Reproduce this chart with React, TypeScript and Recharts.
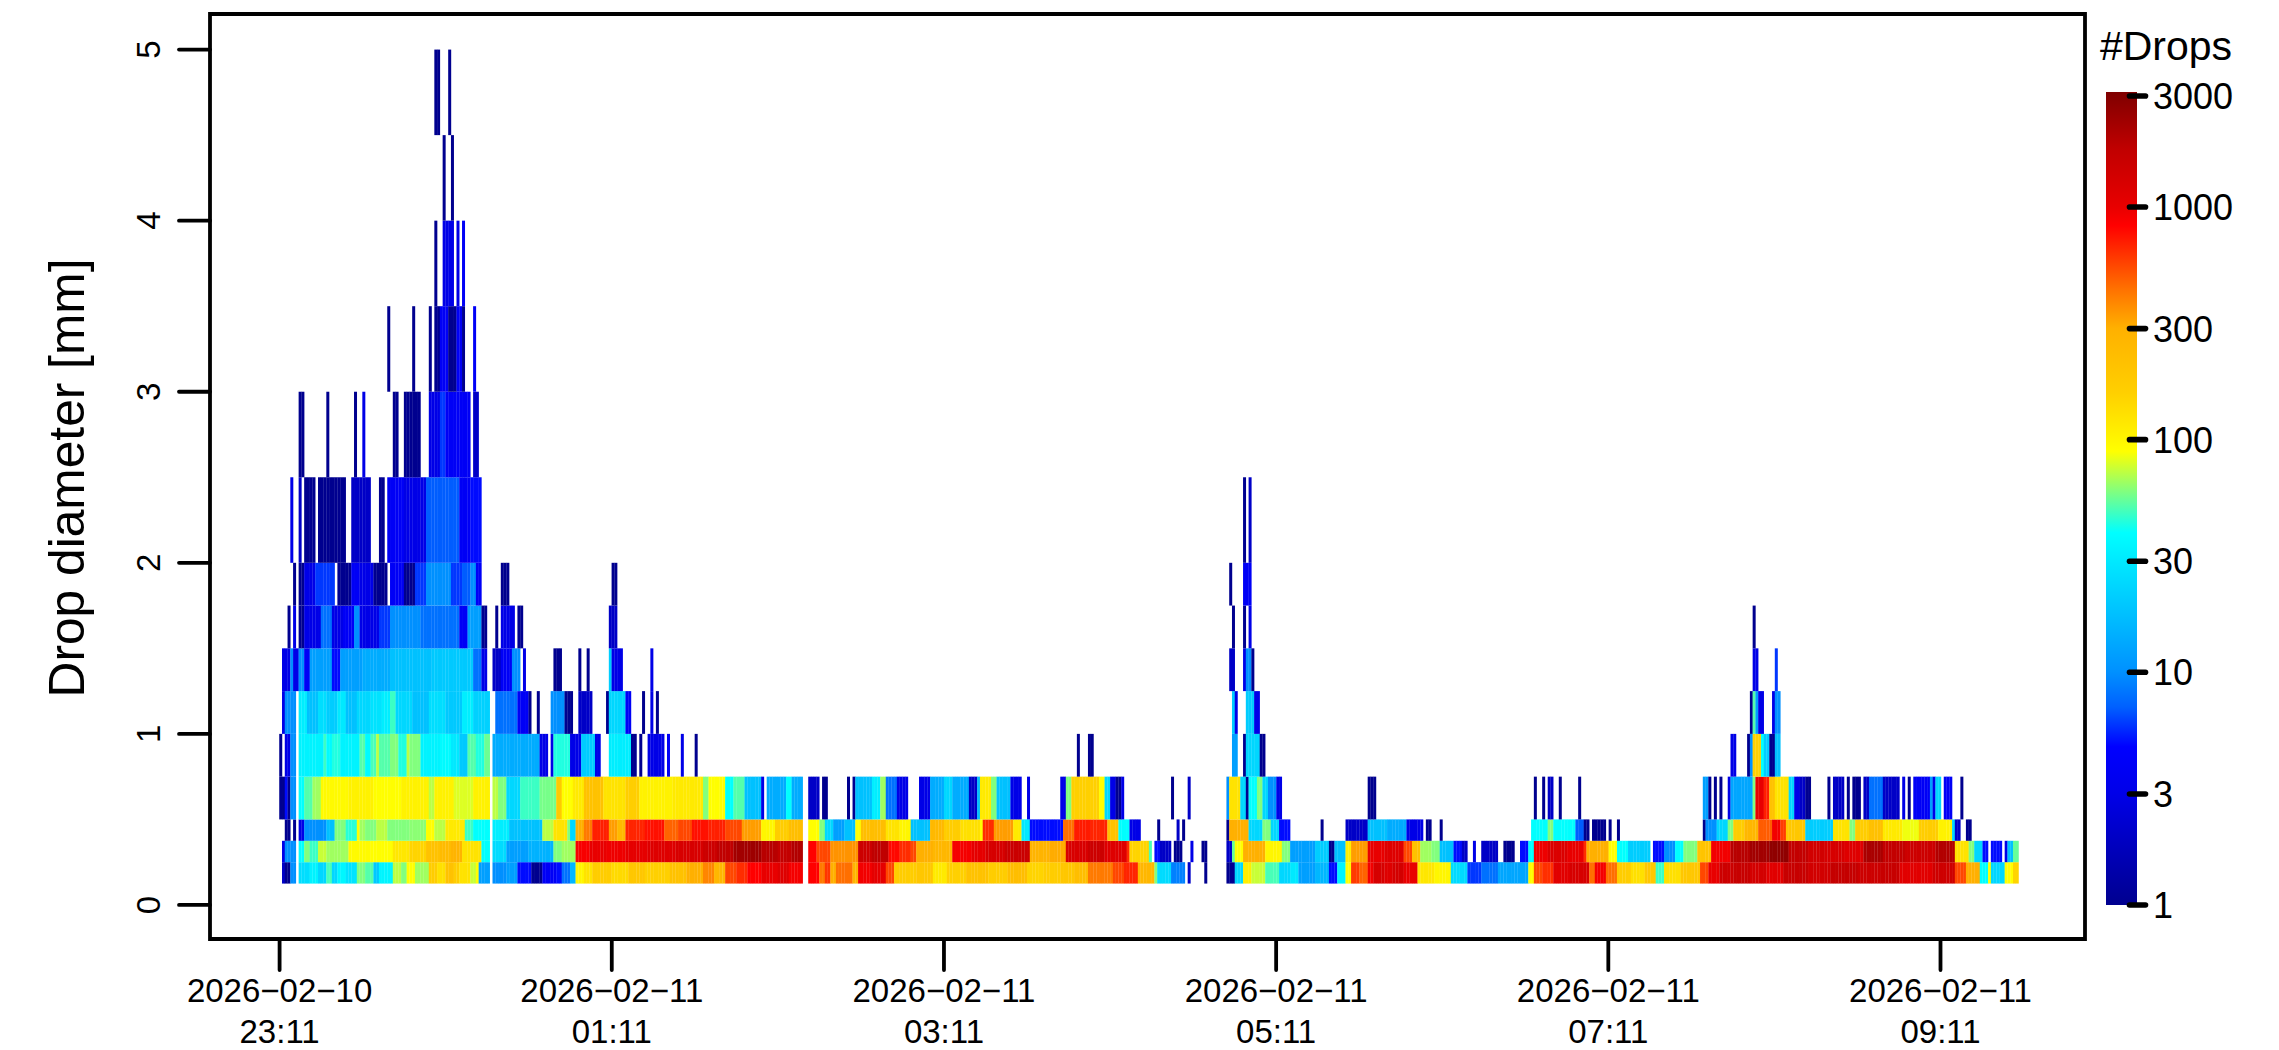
import React from 'react';
import { ComposedChart, Bar, XAxis, YAxis, ReferenceArea } from 'recharts';

// Drop diameter class edges [mm]
const diameterEdges = [0.125, 0.25, 0.375, 0.5, 0.75, 1, 1.25, 1.5, 1.75, 2, 2.5, 3, 3.5, 4, 4.5, 5];

// Each class: runs of [first minute, end minute, drop count]
const d0125 = [[1,2,2],[2,4,1],[4,6,10],[7,11,26],[11,14,34],[14,17,24],[17,19,50],[19,21,24],[21,24,36],[24,28,28],[28,31,60],[31,34,52],[34,36,20],[36,41,35],[41,44,72],[44,46,60],[46,49,90],[49,54,66],[54,57,170],[57,60,130],[60,63,210],[63,65,170],[65,69,125],[69,71,75],[71,72,90],[72,76,12],[77,82,10],[82,86,12],[86,91,5],[91,95,1],[95,100,4],[100,102,5],[102,105,8],[105,107,16],[107,110,100],[110,113,125],[113,120,170],[120,126,140],[126,132,190],[132,141,160],[141,147,210],[147,153,300],[153,157,390],[157,161,260],[161,165,560],[165,169,650],[169,174,830],[174,180,1000],[180,184,1150],[184,189,900],[191,195,830],[195,197,420],[197,199,620],[199,201,300],[201,207,450],[207,209,280],[209,214,920],[214,219,1050],[219,222,560],[222,230,170],[230,236,190],[236,241,115],[241,248,160],[248,256,210],[256,263,170],[263,270,230],[270,276,150],[276,282,170],[282,287,190],[287,292,230],[292,301,420],[301,305,560],[305,310,680],[310,316,260],[316,317,60],[317,322,25],[322,327,9],[328,329,2],[334,335,1],[342,345,1],[345,348,24],[348,351,110],[351,356,75],[356,361,50],[361,365,24],[365,368,30],[368,374,12],[374,379,16],[379,382,5],[382,385,35],[385,387,90],[387,390,600],[390,393,480],[393,395,920],[395,399,1300],[399,402,1150],[402,406,1350],[406,411,1000],[411,417,120],[417,423,100],[423,429,25],[429,434,6],[434,440,8],[440,451,13],[451,453,90],[453,456,560],[456,460,640],[460,466,1100],[466,473,1300],[473,475,450],[475,479,900],[479,483,450],[483,488,170],[488,493,130],[493,497,190],[497,500,48],[500,506,130],[506,513,190],[513,516,560],[516,520,1000],[520,525,1500],[525,531,1600],[531,537,1350],[537,543,1100],[543,552,1600],[552,560,1400],[560,570,1650],[570,578,1500],[578,585,1600],[585,597,1100],[597,605,1450],[605,609,560],[609,614,300],[614,617,40],[617,618,90],[618,623,24],[623,626,90],[626,628,150]];
const d0250 = [[1,2,3],[2,6,10],[7,9,40],[9,11,60],[11,14,48],[14,17,75],[17,20,66],[20,25,66],[25,33,95],[33,41,90],[41,47,120],[47,53,150],[53,58,210],[58,62,240],[62,66,280],[66,73,125],[73,76,40],[77,82,25],[82,90,12],[90,99,15],[99,102,60],[102,107,66],[107,112,880],[112,118,1000],[118,125,950],[125,133,1050],[133,143,1150],[143,153,1280],[153,158,1500],[158,164,1780],[164,170,2300],[170,174,2400],[174,180,1900],[180,185,1700],[185,189,2000],[191,194,830],[194,199,560],[199,209,360],[209,214,1500],[214,220,1800],[220,224,800],[224,228,650],[228,230,560],[230,236,300],[236,243,260],[243,250,900],[250,255,1050],[255,262,1300],[262,271,1550],[271,278,280],[278,284,310],[284,292,1250],[292,298,1500],[298,306,1150],[306,307,650],[307,314,150],[314,315,50],[316,318,5],[318,322,2],[323,326,1],[329,330,3],[333,335,1],[342,344,2],[344,345,55],[345,348,90],[348,356,300],[356,362,100],[362,365,60],[365,374,12],[374,379,21],[379,381,1],[381,385,18],[385,387,110],[387,393,340],[393,399,1000],[399,406,1150],[406,409,560],[409,412,210],[412,416,66],[416,419,60],[419,424,18],[424,427,5],[427,429,2],[431,432,3],[434,440,2],[442,446,1],[448,451,5],[451,453,40],[453,458,950],[458,465,1200],[465,471,1000],[471,472,650],[472,480,300],[480,483,90],[483,487,40],[487,495,21],[496,498,5],[498,500,5],[500,504,10],[504,507,40],[507,512,60],[512,517,200],[517,524,920],[524,531,1900],[531,538,2300],[538,545,2700],[545,552,1700],[552,558,1400],[558,565,1300],[565,572,1150],[572,579,2150],[579,587,1700],[587,598,1500],[598,605,2000],[605,610,125],[610,612,60],[612,615,24],[615,617,5],[618,622,5],[623,624,3],[624,626,18],[626,628,55]];
const d0375 = [[2,4,1],[5,6,1],[7,9,3],[9,17,10],[17,20,18],[20,24,60],[24,28,45],[28,29,90],[29,31,66],[31,35,60],[35,39,72],[39,47,60],[47,53,62],[53,56,90],[56,60,72],[60,67,115],[67,70,48],[70,76,40],[77,83,32],[83,95,18],[95,99,72],[99,104,125],[104,105,60],[105,107,24],[107,110,300],[110,113,420],[113,119,700],[119,122,340],[122,125,250],[125,132,680],[132,139,760],[139,144,480],[144,149,560],[149,155,760],[155,161,700],[161,167,560],[167,174,340],[174,179,100],[179,184,170],[184,189,230],[191,195,90],[195,197,60],[197,200,24],[200,204,12],[204,208,18],[208,210,90],[210,219,230],[219,224,125],[224,228,100],[228,235,18],[235,240,250],[240,246,170],[246,253,130],[253,254,90],[254,258,650],[258,265,340],[265,268,115],[268,271,30],[271,283,5],[283,287,450],[287,293,720],[293,299,680],[299,303,210],[303,307,40],[307,311,3],[317,318,1],[324,325,2],[326,327,1],[342,343,1],[343,350,300],[350,355,24],[355,358,60],[358,361,24],[361,365,5],[376,377,1],[385,393,2],[393,400,18],[400,407,14],[407,413,3],[414,416,1],[419,420,1],[452,458,40],[458,460,60],[460,468,40],[468,471,7],[471,473,1],[474,479,1],[480,481,1],[483,484,1],[514,515,1],[515,519,10],[519,523,24],[523,525,60],[525,529,170],[529,534,260],[534,539,500],[539,542,920],[542,544,600],[544,551,190],[551,561,21],[561,567,125],[567,569,60],[569,574,170],[574,579,220],[579,586,115],[586,592,85],[592,599,170],[599,604,105],[604,605,24],[605,607,2],[609,611,1]];
const d0500 = [[0,2,1],[2,3,5],[3,4,1],[4,6,10],[7,9,40],[9,12,52],[12,15,66],[15,25,95],[25,34,105],[34,44,90],[44,54,105],[54,56,72],[56,63,105],[63,70,80],[70,76,105],[77,79,72],[79,82,60],[82,87,24],[87,94,48],[94,100,58],[100,102,180],[102,106,90],[106,110,115],[110,117,210],[117,125,125],[125,130,165],[130,142,105],[142,153,115],[153,155,60],[155,161,90],[161,164,40],[164,168,52],[168,174,18],[174,175,3],[176,183,14],[183,185,40],[185,189,14],[191,195,2],[196,198,1],[205,206,1],[207,208,1],[208,214,18],[214,217,32],[217,219,66],[219,223,8],[223,227,3],[231,235,3],[235,240,14],[240,243,24],[243,249,14],[249,252,2],[252,253,18],[253,257,115],[257,259,60],[259,264,18],[264,268,3],[270,271,3],[282,284,3],[284,286,60],[286,296,160],[296,298,90],[298,300,24],[300,302,3],[302,304,1],[304,305,3],[322,323,1],[328,329,2],[342,343,10],[343,347,125],[347,349,24],[349,350,1],[350,353,40],[353,355,60],[355,357,24],[357,360,10],[360,362,3],[393,396,1],[453,454,1],[456,457,1],[458,460,2],[462,463,1],[469,470,1],[514,516,12],[516,517,1],[518,519,1],[520,521,1],[523,524,3],[524,532,13],[532,533,60],[533,536,1000],[536,538,700],[538,540,210],[540,545,125],[545,547,24],[547,549,3],[549,551,2],[551,553,1],[559,560,1],[561,565,2],[566,567,1],[568,571,1],[572,574,2],[574,579,8],[579,585,2],[586,587,3],[588,589,1],[590,596,4],[596,597,12],[597,598,3],[598,600,24],[601,604,4],[607,608,1]];
const d0750 = [[0,1,1],[2,4,3],[4,6,10],[7,16,34],[16,17,48],[17,19,38],[19,22,44],[22,29,34],[29,31,52],[31,33,38],[33,35,50],[35,36,72],[36,40,52],[40,43,60],[43,46,44],[46,47,72],[47,51,60],[51,58,34],[58,62,38],[62,65,30],[65,68,20],[68,71,52],[71,74,44],[74,76,56],[77,94,14],[94,97,3],[98,99,3],[99,105,44],[105,109,3],[109,114,21],[114,116,3],[119,127,32],[127,129,1],[130,131,1],[133,139,3],[140,141,4],[145,146,3],[150,151,1],[288,289,1],[292,294,1],[344,346,12],[348,349,1],[349,354,24],[354,356,1],[524,526,3],[530,531,1],[531,532,10],[532,535,160],[535,536,40],[536,538,21],[538,540,1],[540,542,18]];
const d1000 = [[1,2,3],[2,6,10],[7,10,32],[10,14,18],[14,17,26],[17,21,21],[21,24,30],[24,28,18],[28,33,24],[33,37,28],[37,40,32],[40,42,48],[42,48,24],[48,54,18],[54,60,26],[60,66,20],[66,70,32],[70,76,22],[78,86,8],[86,90,4],[90,91,1],[93,94,1],[98,103,10],[103,106,1],[108,113,2],[118,119,1],[119,125,24],[125,127,4],[131,132,1],[134,135,3],[136,137,1],[344,345,21],[345,346,3],[349,352,21],[352,354,3],[531,532,1],[532,533,52],[533,534,12],[534,536,3],[539,540,3],[540,542,10]];
const d1250 = [[1,4,3],[4,5,10],[5,7,3],[7,9,10],[9,11,4],[11,19,12],[19,22,5],[22,30,12],[30,40,14],[40,55,18],[55,70,20],[70,73,8],[73,75,3],[77,80,2],[80,84,4],[84,87,10],[88,89,3],[99,102,1],[108,109,1],[111,112,1],[119,120,21],[120,124,3],[134,135,3],[343,345,2],[348,349,3],[349,351,10],[351,352,1],[532,534,3],[540,541,6]];
const d1500 = [[3,4,1],[5,6,3],[7,9,1],[9,15,3],[15,19,8],[19,23,3],[23,27,4],[27,29,10],[29,36,3],[36,40,6],[40,51,10],[51,65,8],[65,68,4],[68,73,12],[73,75,1],[78,79,1],[80,85,3],[86,88,1],[119,122,2],[344,345,1],[348,349,1],[350,351,3],[532,533,1]];
const d1750 = [[5,6,1],[7,9,1],[9,13,3],[13,20,6],[21,26,1],[26,29,4],[29,34,3],[34,39,1],[40,45,4],[45,49,1],[49,53,6],[53,62,10],[62,66,6],[66,69,7],[69,71,10],[71,73,4],[80,83,1],[120,122,1],[343,344,1],[348,351,4]];
const d2000 = [[4,5,3],[7,8,2],[9,13,1],[14,24,1],[26,33,2],[36,38,1],[39,45,4],[45,53,3],[53,65,7],[65,69,4],[69,73,5],[348,349,1],[350,351,2]];
const d2500 = [[7,9,1],[17,18,1],[27,28,1],[30,31,3],[41,43,1],[45,51,1],[54,58,3],[58,60,6],[60,69,4],[70,72,2]];
const d3000 = [[39,40,1],[48,49,1],[54,55,1],[56,58,1],[58,61,4],[61,64,1],[64,66,4],[66,67,1],[70,71,4]];
const d3500 = [[56,57,1],[59,63,3],[64,65,3],[66,67,4]];
const d4000 = [[59,60,1],[62,63,1]];
const d4500 = [[56,58,1],[61,62,1]];
const classRuns = [d0125, d0250, d0375, d0500, d0750, d1000, d1250, d1500, d1750, d2000, d2500, d3000, d3500, d4000, d4500];

const yTicks = [0, 1, 2, 3, 4, 5];
const timeTicks = [0, 120, 240, 360, 480, 600];
const dateLabels = ['2026−02−10', '2026−02−11', '2026−02−11', '2026−02−11', '2026−02−11', '2026−02−11'];
const hourLabels = ['23:11', '01:11', '03:11', '05:11', '07:11', '09:11'];
const scaleLabels = [1, 3, 10, 30, 100, 300, 1000, 3000];

// colour ramp: [log10(count), colour]
const ramp: [number, number[]][] = [
  [0, [0, 0, 143]], [0.48, [0, 0, 232]], [0.68, [0, 0, 255]], [0.85, [0, 96, 255]], [1, [0, 144, 255]],
  [1.25, [0, 192, 255]], [1.6, [0, 255, 255]], [1.776, [128, 255, 128]], [1.95, [255, 255, 0]],
  [2.2, [255, 208, 0]], [2.48, [255, 176, 0]], [2.65, [255, 112, 0]], [2.92, [255, 0, 0]],
  [3, [232, 0, 0]], [3.25, [192, 0, 0]], [3.49, [128, 0, 0]],
];
const scaleTop = 3.494;

function colorAt(l: number) {
  if (l <= ramp[0][0]) return `rgb(${ramp[0][1].join(',')})`;
  for (let i = 1; i < ramp.length; i++) {
    if (l <= ramp[i][0]) {
      const [a, ca] = ramp[i - 1];
      const [b, cb] = ramp[i];
      const f = (l - a) / (b - a);
      return `rgb(${ca.map((v, j) => Math.round(v + (cb[j] - v) * f)).join(',')})`;
    }
  }
  return `rgb(${ramp[ramp.length - 1][1].join(',')})`;
}

const firstMinute = -25;
const lastMinute = 651;
const tableRows: any[] = [];
for (let k = firstMinute; k <= lastMinute; k++) {
  const row: any = { k, base: diameterEdges[0] };
  classRuns.forEach((_, i) => {
    row[`h${i}`] = diameterEdges[i + 1] - diameterEdges[i];
  });
  tableRows.push(row);
}
classRuns.forEach((runs, i) => {
  runs.forEach(([s, e, c]) => {
    for (let k = s; k < e; k++) tableRows[k - firstMinute][`c${i}`] = c;
  });
});

const FONT = '"Liberation Sans", Arial, sans-serif';
const LW = 3.8;
const tickStyle = { stroke: '#000', strokeWidth: LW, strokeLinecap: 'round' as const };

function makeCell(i: number) {
  return (p: any) => {
    const c = tableRows[p.index]?.[`c${i}`];
    if (!c) return <g />;
    return <rect x={p.x} y={p.y} width={p.width} height={p.height} fill={colorAt(Math.log10(c))} />;
  };
}

const YTick = ({ y, payload }: any) => (
  <text
    transform={`translate(160 ${y}) rotate(-90)`}
    textAnchor="middle"
    fontFamily={FONT}
    fontSize={33}
    fill="#000"
  >
    {payload.value}
  </text>
);

const XTick = ({ x, index }: any) => (
  <g>
    <text x={x} y={1001.7} textAnchor="middle" fontFamily={FONT} fontSize={33} fill="#000">
      {dateLabels[index]}
    </text>
    <text x={x} y={1043} textAnchor="middle" fontFamily={FONT} fontSize={33} fill="#000">
      {hourLabels[index]}
    </text>
  </g>
);

const ScaleTick = ({ y, payload }: any) => (
  <g>
    <line x1={2129.5} x2={2145.5} y1={y} y2={y} stroke="#000" strokeWidth={5.6} strokeLinecap="round" />
    <text x={2153} y={y + 13} fontFamily={FONT} fontSize={36} fill="#000">
      {Math.round(Math.pow(10, payload.value))}
    </text>
  </g>
);

const scaleData = [{ name: 'scale', top: scaleTop }];
const ScaleBar = (p: any) => (
  <g>
    <defs>
      <linearGradient id="dropsRamp" x1="0" y1="1" x2="0" y2="0">
        {ramp.map(([l, c]) => (
          <stop key={l} offset={l / scaleTop} stopColor={`rgb(${c.join(',')})`} />
        ))}
      </linearGradient>
    </defs>
    <rect x={p.x} y={p.y} width={p.width} height={p.height} fill="url(#dropsRamp)" />
  </g>
);

const tMin = -25.14;
const tMax = 652.2;
const yMin = -0.199;
const yMax = 5.208;

export default function App() {
  return (
    <div style={{ position: 'absolute', left: 0, top: 0, width: 2279, height: 1050, background: '#fff', overflow: 'hidden' }}>
      <div style={{ position: 'absolute', left: 0, top: 0 }}>
        <ComposedChart
          width={2279}
          height={1050}
          data={tableRows}
          barCategoryGap={0}
          barGap={0}
          margin={{ left: 110, right: 194, top: 14, bottom: 51 }}
        >
          <XAxis xAxisId="cells" dataKey="k" type="category" hide height={0} />
          <XAxis
            xAxisId="time"
            dataKey="k"
            type="number"
            domain={[tMin, tMax]}
            ticks={timeTicks}
            allowDataOverflow
            height={60}
            axisLine={false}
            tickSize={31}
            tickLine={tickStyle}
            tick={<XTick />}
            interval={0}
          />
          <YAxis
            domain={[yMin, yMax]}
            ticks={yTicks}
            allowDataOverflow
            width={100}
            axisLine={false}
            tickSize={31}
            tickLine={tickStyle}
            tick={<YTick />}
            interval={0}
          />
          <Bar xAxisId="cells" dataKey="base" stackId="s" isAnimationActive={false} shape={() => <g />} />
          {classRuns.map((_, i) => (
            <Bar
              key={i}
              xAxisId="cells"
              dataKey={`h${i}`}
              stackId="s"
              isAnimationActive={false}
              shape={makeCell(i)}
            />
          ))}
          <ReferenceArea
            xAxisId="time"
            x1={tMin}
            x2={tMax}
            y1={yMin}
            y2={yMax}
            fill="none"
            stroke="#000"
            strokeWidth={LW}
            ifOverflow="visible"
          />
          <text
            transform="translate(84 478) rotate(-90)"
            textAnchor="middle"
            fontFamily={FONT}
            fontSize={49.7}
            fill="#000"
          >
            Drop diameter [mm]
          </text>
        </ComposedChart>
      </div>
      <div style={{ position: 'absolute', left: 0, top: 0 }}>
        <ComposedChart
          width={2279}
          height={1050}
          data={scaleData}
          barCategoryGap={0}
          margin={{ left: 2106, right: 41.7, top: 92, bottom: 145 }}
        >
          <XAxis dataKey="name" hide />
          <YAxis
            orientation="right"
            domain={[0, scaleTop]}
            ticks={scaleLabels.map((v) => Math.log10(v))}
            allowDataOverflow
            width={100}
            axisLine={false}
            tickLine={false}
            tick={<ScaleTick />}
            interval={0}
          />
          <Bar dataKey="top" isAnimationActive={false} shape={ScaleBar} />
          <text x={2166} y={60} textAnchor="middle" fontFamily={FONT} fontSize={41} fill="#000">
            #Drops
          </text>
        </ComposedChart>
      </div>
    </div>
  );
}
